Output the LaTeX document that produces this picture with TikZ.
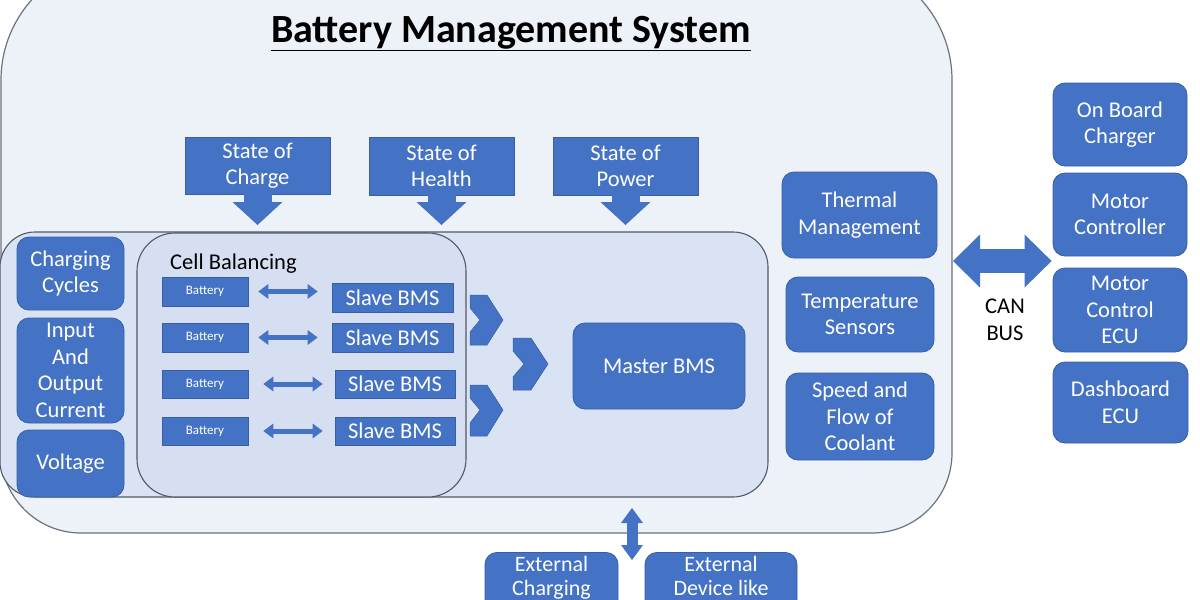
\documentclass[tikz,border=0pt]{standalone}
\usepackage{fontspec}
\setmainfont{Carlito}
\usetikzlibrary{arrows.meta}
\definecolor{boxblue}{HTML}{4472C4}
\definecolor{boxedge}{HTML}{365FA8}
\definecolor{outerfill}{HTML}{EDF1F8}
\definecolor{outerdraw}{HTML}{6B7280}
\definecolor{packfill}{HTML}{DAE3F3}
\definecolor{cellfill}{HTML}{D5DFF1}
\definecolor{packdraw}{HTML}{515A68}
\begin{document}
\begin{tikzpicture}[x=1pt,y=-1pt,
  bx/.style={fill=boxblue, draw=boxedge, line width=0.8pt, text=white, inner sep=0pt,
    align=center, font=\fontsize{22.5}{26.5}\selectfont},
  rbx/.style={bx, rounded corners=12pt},
  batbox/.style={bx, font=\fontsize{13}{15}\selectfont},
  blk/.style={draw=boxblue, line cap=butt},
  downarr/.style={blk, line width=28pt, -{Triangle[length=23pt,width=50pt,line width=0pt]}},
  batarr/.style={blk, line width=5pt, {Triangle[length=10pt,width=15pt,line width=0pt]}-{Triangle[length=10pt,width=15pt,line width=0pt]}},
  canarr/.style={blk, line width=24pt, {Triangle[length=27pt,width=53pt,line width=0pt]}-{Triangle[length=27pt,width=53pt,line width=0pt]}},
  extarr/.style={blk, line width=11pt, {Triangle[length=15pt,width=22pt,line width=0pt]}-{Triangle[length=15pt,width=22pt,line width=0pt]}},
  chev/.style={fill=boxblue, draw=boxedge, line width=0.5pt},
  plain/.style={font=\fontsize{22.5}{26.5}\selectfont, align=center, inner sep=0pt},
  extbox/.style={rbx, anchor=north, inner ysep=4pt, font=\fontsize{22}{24}\selectfont, text depth=35pt}
]
\useasboundingbox (0,0) rectangle (1200,600);
\fill[white] (0,0) rectangle (1200,600);

% outer BMS container
\path[draw=outerdraw, fill=outerfill, line width=1.2pt]
  (1,80) arc[start angle=180,end angle=90,radius=120pt] -- (832,-40)
  arc[start angle=90,end angle=0,radius=120pt] -- (952,453)
  arc[start angle=0,end angle=-90,radius=80pt] -- (81,533)
  arc[start angle=-90,end angle=-180,radius=80pt] -- cycle;

\node[anchor=base, inner sep=0pt] (title) at (511,42)
  {\fontsize{40}{42}\selectfont\bfseries\underline{Battery Management System}};

% pack and cell balancing regions
\draw[draw=packdraw, fill=packfill, line width=1.1pt, rounded corners=35pt] (0,232) rectangle (768,497);
\draw[draw=packdraw, fill=cellfill, line width=1.1pt, rounded corners=38pt] (137,233) rectangle (466,497);

% state boxes
\node[bx, minimum width=145pt, minimum height=57pt] (soc) at (257.5,165.5) {State of\\Charge};
\node[bx, minimum width=145pt, minimum height=58pt] (soh) at (441.5,166) {State of\\Health};
\node[bx, minimum width=145pt, minimum height=58pt] (sop) at (625.5,166) {State of\\Power};
\coordinate (packtop) at (0,225);
\draw[downarr] (soc.south) -- (soc.south |- packtop);
\draw[downarr] (soh.south) -- (soh.south |- packtop);
\draw[downarr] (sop.south) -- (sop.south |- packtop);

% left boxes
\node[rbx, minimum width=107pt, minimum height=73pt] (cc) at (70.5,273.5) {Charging\\Cycles};
\node[rbx, minimum width=107pt, minimum height=105pt] (ioc) at (70.5,370.5) {Input\\And\\Output\\Current};
\node[rbx, minimum width=107pt, minimum height=67pt] (volt) at (70.5,463.5) {Voltage};

\node[plain, anchor=west] (cbl) at (170,264) {Cell Balancing};

% batteries and slaves
\node[batbox, minimum width=86pt, minimum height=29pt] (bat1) at (205,291.5) {Battery};
\node[batbox, minimum width=86pt, minimum height=29pt] (bat2) at (205,337.5) {Battery};
\node[batbox, minimum width=86pt, minimum height=28pt] (bat3) at (205,384) {Battery};
\node[batbox, minimum width=86pt, minimum height=28pt] (bat4) at (205,431) {Battery};
\node[bx, minimum width=121pt, minimum height=29pt] (sl1) at (392.5,297.5) {Slave BMS};
\node[bx, minimum width=121pt, minimum height=29pt] (sl2) at (392.5,337.5) {Slave BMS};
\node[bx, minimum width=120pt, minimum height=28pt] (sl3) at (395,384) {Slave BMS};
\node[bx, minimum width=120pt, minimum height=28pt] (sl4) at (395,431) {Slave BMS};
\draw[batarr, shorten <=10pt, shorten >=14pt] (bat1.east) -- (bat1.east -| sl1.west);
\draw[batarr, shorten <=10pt, shorten >=14pt] (bat2.east) -- (bat2.east -| sl2.west);
\draw[batarr, shorten <=15pt, shorten >=12pt] (bat3.east) -- (bat3.east -| sl3.west);
\draw[batarr, shorten <=15pt, shorten >=12pt] (bat4.east) -- (bat4.east -| sl4.west);

% chevrons
\path[chev] (470,295) -- (487,295) -- (503,320) -- (487,345) -- (470,345) -- (470,332) -- (480,320) -- (470,308) -- cycle;
\path[chev] (513,338) -- (531,338) -- (548,364) -- (531,390) -- (513,390) -- (513,377) -- (524,364) -- (513,351) -- cycle;
\path[chev] (470,385) -- (487,385) -- (503,410) -- (487,436) -- (470,436) -- (470,423) -- (480,410) -- (470,398) -- cycle;

\node[rbx, minimum width=172pt, minimum height=86pt] (master) at (659,366) {Master BMS};

% thermal column
\node[rbx, minimum width=155pt, minimum height=86pt] (thm) at (859.5,215) {Thermal\\Management};
\node[rbx, minimum width=148pt, minimum height=75pt] (temp) at (860,314.5) {Temperature\\Sensors};
\node[rbx, minimum width=148pt, minimum height=87pt] (speed) at (860,416.5) {Speed and\\Flow of\\Coolant};

% vehicle ECUs
\node[rbx, minimum width=134pt, minimum height=83pt] (obc) at (1120,124.5) {On Board\\Charger};
\node[rbx, minimum width=134pt, minimum height=83pt] (mc) at (1120,214.5) {Motor\\Controller};
\node[rbx, minimum width=134pt, minimum height=84pt] (mce) at (1120,310) {Motor\\Control\\ECU};
\node[rbx, minimum width=135pt, minimum height=81pt] (dash) at (1120.5,402.5) {Dashboard\\ECU};

\coordinate (canL) at (953,261);
\draw[canarr, shorten >=1pt] (canL) -- (canL -| mc.west);
\node[plain] (can) at (1005,320) {CAN\\BUS};

% external
\node[extbox, minimum width=133pt] (extc) at (551.5,552) {External\\Charging};
\node[extbox, minimum width=152pt] (extd) at (721,552) {External\\Device like};
\coordinate (extup) at (632,508);
\coordinate (extdown) at (632,560);
\draw[extarr] (extup) -- (extdown);
\end{tikzpicture}
\end{document}
